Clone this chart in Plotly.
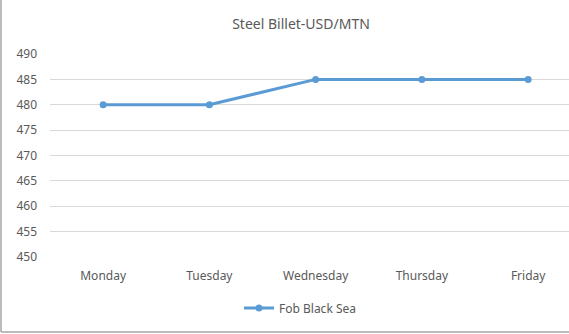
import plotly.graph_objects as go

days = ["Monday", "Tuesday", "Wednesday", "Thursday", "Friday"]
fob_black_sea = [480, 480, 485, 485, 485]
y_ticks = [450, 455, 460, 465, 470, 475, 480, 485, 490]

W, H = 569, 334
L, R, T, B = 50, 0, 54, 77
pw, ph = W - L - R, H - T - B

fig = go.Figure()
fig.add_trace(go.Scatter(
    x=days, y=fob_black_sea, mode="lines+markers", name="Fob Black Sea",
    line=dict(color="#5b9bd5", width=3),
    marker=dict(color="#5b9bd5", size=7, symbol="circle"),
))

font = "Noto Sans, Open Sans, sans-serif"
fig.update_layout(
    width=W, height=H,
    margin=dict(l=L, r=R, t=T, b=B),
    paper_bgcolor="white", plot_bgcolor="white",
    title=dict(text="Steel Billet-USD/MTN", x=301 / W, xanchor="center",
               y=1 - 24 / H, yanchor="middle",
               font=dict(family=font, size=14, color="#595959")),
    showlegend=True,
    legend=dict(orientation="h", x=(300 - L) / pw, xanchor="center",
                y=-(308 - (T + ph)) / ph, yanchor="middle",
                font=dict(family=font, size=12, color="#595959"),
                bgcolor="rgba(0,0,0,0)", itemwidth=30),
    xaxis=dict(type="category", range=[-0.5, -0.5 + pw / 106.25],
               showgrid=False, zeroline=False, showline=False,
               ticks="", tickfont=dict(family=font, size=12, color="#595959"),
               ticklabelstandoff=10),
    yaxis=dict(range=[450, 490], tickvals=y_ticks, showgrid=True,
               gridcolor="#d9d9d9", gridwidth=1, zeroline=False,
               showline=False, ticks="",
               tickfont=dict(family=font, size=12, color="#595959"),
               ticklabelstandoff=12),
)

# outer chart border (left and bottom visible in the reference)
fig.add_shape(type="line", xref="paper", yref="paper",
              x0=(1 - L) / pw, x1=(1 - L) / pw, y0=-(332 - (T + ph)) / ph, y1=(T - 0) / ph + 1,
              line=dict(color="#a6a6a6", width=1.5))
fig.add_shape(type="line", xref="paper", yref="paper",
              x0=(1 - L) / pw, x1=1.0, y0=-(332 - (T + ph)) / ph, y1=-(332 - (T + ph)) / ph,
              line=dict(color="#a6a6a6", width=1.5))

fig.write_html("out.html")
